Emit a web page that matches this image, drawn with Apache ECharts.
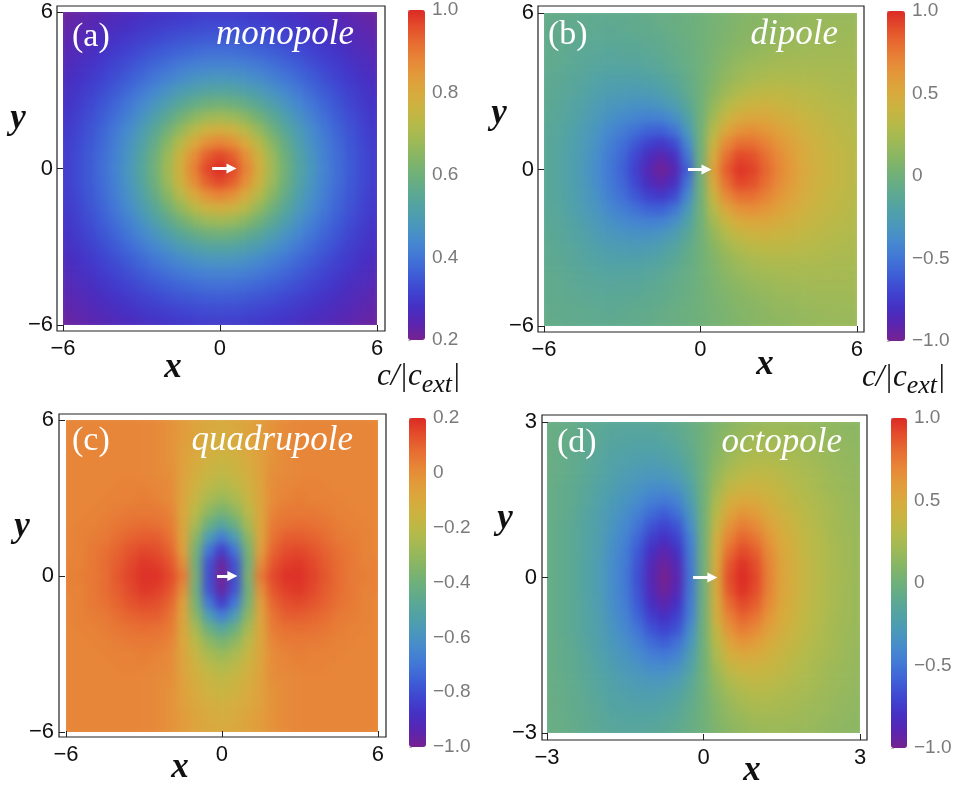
<!DOCTYPE html>
<html>
<head>
<meta charset="utf-8">
<script src="https://cdn.jsdelivr.net/npm/echarts/dist/echarts.min.js"></script>
<style>
html,body{margin:0;padding:0;background:#fff;}
#stage{position:relative;width:960px;height:791px;background:#fff;}
.heatwrap{position:absolute;overflow:hidden;}
.heatblur{position:absolute;filter:blur(4px);}
#chart{position:absolute;left:0;top:0;width:960px;height:791px;}
</style>
</head>
<body>
<div id="stage">
  <div class="heatwrap" id="hw0"><div class="heatblur" id="hb0"></div></div>
  <div class="heatwrap" id="hw1"><div class="heatblur" id="hb1"></div></div>
  <div class="heatwrap" id="hw2"><div class="heatblur" id="hb2"></div></div>
  <div class="heatwrap" id="hw3"><div class="heatblur" id="hb3"></div></div>
  <div id="chart"></div>
</div>
<script>
// ---------------- DATA ----------------
// grid coordinates of the sampled field (cell centres)
const coords6 = [-6,-5.5,-5,-4.5,-4,-3.5,-3,-2.5,-2,-1.5,-1,-0.5,0,0.5,1,1.5,2,2.5,3,3.5,4,4.5,5,5.5,6];
const coords3 = [-3,-2.75,-2.5,-2.25,-2,-1.75,-1.5,-1.25,-1,-0.75,-0.5,-0.25,0,0.25,0.5,0.75,1,1.25,1.5,1.75,2,2.25,2.5,2.75,3];

// Field values, one quadrant at a time
// (row j = |y| index from 0 outward, column i = |x| index from 0 outward).
// monopole / quadrupole: the same values in all four quadrants.
// dipole / octopole: right half (x>0) values, and left half (x<0) magnitudes (negative sign).
const monopoleQ = [
 [1.00,.967,.884,.783,.687,.603,.533,.475,.427,.387,.354,.325,.300],
 [.967,.937,.861,.767,.676,.596,.528,.471,.424,.385,.352,.324,.299],
 [.884,.861,.801,.724,.645,.574,.513,.461,.417,.379,.348,.320,.297],
 [.783,.767,.724,.665,.603,.544,.491,.445,.405,.370,.340,.315,.292],
 [.687,.676,.645,.603,.556,.508,.464,.424,.389,.358,.331,.307,.286],
 [.603,.596,.574,.544,.508,.471,.436,.402,.372,.345,.320,.298,.279],
 [.533,.528,.513,.491,.464,.436,.407,.379,.354,.330,.308,.289,.271],
 [.475,.471,.461,.445,.424,.402,.379,.357,.335,.315,.296,.278,.263],
 [.427,.424,.417,.405,.389,.372,.354,.335,.317,.299,.283,.268,.254],
 [.387,.385,.379,.370,.358,.345,.330,.315,.299,.285,.270,.257,.244],
 [.354,.352,.348,.340,.331,.320,.308,.296,.283,.270,.258,.246,.235],
 [.325,.324,.320,.315,.307,.298,.289,.278,.268,.257,.246,.236,.226],
 [.300,.299,.297,.292,.286,.279,.271,.263,.254,.244,.235,.226,.217]
];
const dipoleRightQ = [
 [0,.55,.85,.97,.93,.82,.70,.60,.51,.44,.39,.35,.32],
 [0,.49,.79,.92,.89,.79,.68,.59,.50,.43,.39,.35,.32],
 [0,.40,.68,.79,.79,.72,.63,.55,.48,.42,.37,.34,.31],
 [0,.31,.53,.64,.66,.62,.56,.50,.44,.39,.36,.33,.30],
 [0,.22,.39,.49,.52,.52,.48,.44,.40,.36,.33,.31,.29],
 [0,.16,.29,.37,.41,.42,.40,.38,.35,.33,.31,.29,.28],
 [0,.11,.21,.28,.32,.34,.34,.33,.31,.30,.28,.27,.26],
 [0,.08,.16,.21,.25,.27,.28,.28,.27,.27,.26,.25,.25],
 [0,.06,.12,.17,.20,.22,.23,.24,.24,.24,.24,.24,.23],
 [0,.05,.09,.13,.16,.18,.20,.21,.21,.22,.22,.22,.22],
 [0,.04,.07,.11,.13,.15,.17,.18,.19,.20,.20,.20,.21],
 [0,.03,.06,.09,.11,.13,.15,.16,.17,.18,.19,.19,.19],
 [0,.03,.05,.08,.10,.12,.13,.14,.16,.17,.17,.18,.18]
];
const dipoleLeftQ = [
 [0,.60,.90,.98,.88,.72,.58,.48,.38,.29,.22,.16,.13],
 [0,.51,.82,.91,.83,.69,.56,.47,.37,.28,.22,.16,.13],
 [0,.41,.68,.76,.72,.62,.52,.44,.35,.27,.21,.16,.13],
 [0,.30,.51,.59,.58,.52,.46,.40,.32,.26,.20,.15,.13],
 [0,.21,.36,.43,.44,.42,.39,.34,.29,.23,.18,.14,.12],
 [0,.14,.25,.31,.34,.34,.32,.30,.26,.20,.17,.13,.11],
 [0,.09,.17,.23,.26,.27,.26,.25,.22,.18,.15,.12,.10],
 [0,.07,.13,.17,.20,.21,.21,.21,.19,.16,.14,.11,.10],
 [0,.05,.09,.13,.15,.17,.17,.17,.16,.14,.12,.10,.09],
 [0,.04,.07,.10,.12,.14,.14,.15,.14,.13,.11,.09,.08],
 [0,.03,.06,.08,.10,.11,.12,.12,.12,.11,.10,.08,.08],
 [0,.02,.04,.06,.08,.09,.10,.11,.10,.09,.09,.08,.07],
 [0,.02,.04,.05,.07,.08,.09,.09,.10,.09,.08,.07,.07]
];
const quadrupoleQ = [
 [-1.00,-.80,-.38,.05,.15,.19,.19,.16,.12,.08,.05,.04,.03],
 [-.97,-.79,-.40,.00,.13,.17,.18,.15,.11,.08,.05,.03,.03],
 [-.85,-.70,-.38,-.05,.10,.14,.15,.13,.10,.07,.05,.03,.02],
 [-.68,-.56,-.33,-.07,.07,.11,.11,.10,.08,.05,.04,.03,.02],
 [-.50,-.42,-.26,-.08,.05,.07,.08,.07,.06,.04,.03,.03,.02],
 [-.38,-.32,-.21,-.08,.03,.05,.05,.05,.04,.03,.03,.02,.02],
 [-.29,-.25,-.17,-.07,.01,.03,.04,.03,.03,.03,.02,.02,.02],
 [-.23,-.20,-.14,-.07,.01,.02,.03,.03,.03,.02,.02,.02,.02],
 [-.19,-.16,-.12,-.06,.00,.01,.02,.02,.02,.02,.02,.02,.02],
 [-.16,-.14,-.10,-.06,-.01,.01,.02,.02,.02,.02,.02,.02,.02],
 [-.13,-.11,-.09,-.05,-.01,.01,.02,.02,.02,.02,.02,.02,.02],
 [-.11,-.10,-.07,-.04,-.01,.01,.02,.02,.02,.02,.02,.02,.02],
 [-.10,-.09,-.07,-.04,-.01,.01,.02,.02,.02,.02,.02,.02,.02]
];
const octopoleRightQ = [
 [0,.50,.90,1.0,.92,.72,.55,.45,.36,.31,.25,.22,.18],
 [0,.49,.87,.98,.90,.71,.54,.45,.36,.30,.25,.21,.18],
 [0,.47,.80,.91,.85,.68,.53,.44,.35,.30,.25,.21,.18],
 [0,.45,.72,.83,.77,.63,.50,.42,.34,.29,.24,.21,.18],
 [0,.37,.64,.74,.68,.57,.47,.39,.33,.28,.23,.20,.17],
 [0,.32,.54,.63,.59,.50,.43,.37,.31,.27,.23,.19,.17],
 [0,.26,.45,.51,.50,.44,.39,.33,.29,.25,.22,.19,.16],
 [0,.21,.35,.41,.41,.39,.35,.30,.27,.23,.20,.18,.16],
 [0,.16,.27,.33,.35,.34,.31,.28,.25,.22,.19,.17,.15],
 [0,.12,.21,.27,.29,.29,.27,.25,.23,.20,.18,.16,.14],
 [0,.09,.17,.22,.25,.25,.24,.23,.20,.19,.17,.15,.14],
 [0,.08,.14,.18,.21,.21,.21,.20,.19,.17,.15,.14,.13],
 [0,.06,.11,.15,.17,.19,.19,.18,.17,.16,.14,.13,.12]
];
const octopoleLeftQ = [
 [0,.50,.90,1.0,.88,.66,.48,.37,.26,.19,.12,.08,.05],
 [0,.49,.87,.97,.86,.65,.47,.37,.26,.19,.12,.08,.05],
 [0,.47,.80,.91,.81,.62,.46,.36,.25,.18,.12,.08,.05],
 [0,.45,.72,.81,.73,.57,.43,.34,.24,.18,.12,.08,.05],
 [0,.37,.64,.71,.64,.51,.40,.32,.23,.18,.12,.08,.05],
 [0,.32,.52,.60,.54,.44,.36,.30,.23,.17,.11,.07,.05],
 [0,.25,.43,.48,.45,.38,.32,.27,.21,.15,.10,.07,.05],
 [0,.20,.33,.38,.37,.33,.29,.24,.19,.14,.10,.07,.04],
 [0,.15,.25,.30,.30,.28,.25,.22,.17,.13,.09,.06,.04],
 [0,.11,.19,.23,.25,.24,.22,.20,.16,.12,.08,.06,.04],
 [0,.08,.15,.19,.20,.20,.19,.18,.14,.11,.08,.06,.04],
 [0,.06,.12,.15,.17,.17,.17,.16,.13,.10,.07,.05,.04],
 [0,.05,.09,.12,.14,.15,.15,.14,.12,.10,.07,.05,.04]
];

// tick labels
const ticks6 = [-6, 0, 6];
const ticks3 = [-3, 0, 3];
// colour-bar ranges [min, max, interval]
const barA = [0.2, 1.0, 0.2];
const barB = [-1.0, 1.0, 0.5];
const barC = [-1.0, 0.2, 0.2];
const barD = [-1.0, 1.0, 0.5];
// white arrows (data coordinates: tail, end of shaft)
const arrowA = [[-0.30, 0], [0.44, 0]];
const arrowB = [[-0.48, 0], [0.23, 0]];
const arrowC = [[-0.19, 0], [0.40, 0]];
const arrowD = [[-0.20, 0], [0.17, 0]];
// texts
const panelLetters = ['(a)', '(b)', '(c)', '(d)'];
const panelNames = ['monopole', 'dipole', 'quadrupole', 'octopole'];

// ---------------- STYLE ----------------
const palette = ['#76228f','#5a25b0','#4530c4','#3f45d0','#3e5ed6','#4276d6','#4689cf','#4a98bb','#51a2a6','#5ea98f',
                 '#6fb07a','#85b566','#9db957','#b4ba4a','#c9b441','#d8aa3d','#e29b3a','#e78637','#e76c31','#e34d2b','#dc2a25'];
const SERIF = '"Liberation Serif", "DejaVu Serif", serif';
const SANS = '"Liberation Sans", Arial, sans-serif';
const MINUS = '\u2212';

function buildTable(rightQ, leftQ) {
  const n = rightQ.length, out = [];
  for (let b = 0; b < 2 * n - 1; b++) {
    for (let a = 0; a < 2 * n - 1; a++) {
      const i = Math.abs(a - (n - 1)), j = Math.abs(b - (n - 1));
      const v = (a < n - 1 && leftQ) ? -leftQ[j][i] : rightQ[j][i];
      out.push([a, b, v]);
    }
  }
  return out;
}
function tickFmt(v) { return v < 0 ? MINUS + Math.abs(v) : String(v); }
function barFmt(v) {
  if (Math.abs(v) < 1e-9) return '0';
  return (v < 0 ? MINUS : '') + Math.abs(v).toFixed(1);
}

const panels = [
  { right: monopoleQ, left: null, coords: coords6, ticks: ticks6, bar: barA, arrow: arrowA,
    heat: {left: 63, top: 12, width: 314, height: 313},
    frame: {left: 57, top: 6, width: 328, height: 325}, xr: [-6.229, 6.306], yr: [-6.23, 6.23],
    cbar: {left: 408, top: 10, width: 17, height: 330}, ylm: 4 },
  { right: dipoleRightQ, left: dipoleLeftQ, coords: coords6, ticks: ticks6, bar: barB, arrow: arrowB,
    heat: {left: 544, top: 13, width: 313, height: 313},
    frame: {left: 538, top: 6, width: 326, height: 326}, xr: [-6.23, 6.27], yr: [-6.23, 6.27],
    cbar: {left: 887, top: 11, width: 18, height: 330}, ylm: 4 },
  { right: quadrupoleQ, left: null, coords: coords6, ticks: ticks6, bar: barC, arrow: arrowC,
    heat: {left: 66, top: 420, width: 312, height: 312},
    frame: {left: 59, top: 414, width: 327, height: 323}, xr: [-6.27, 6.31], yr: [-6.19, 6.23],
    cbar: {left: 409, top: 418, width: 17, height: 329}, ylm: 5 },
  { right: octopoleRightQ, left: octopoleLeftQ, coords: coords3, ticks: ticks3, bar: barD, arrow: arrowD,
    heat: {left: 547, top: 422, width: 313, height: 311},
    frame: {left: 542, top: 415, width: 325, height: 325}, xr: [-3.096, 3.134], yr: [-3.135, 3.135],
    cbar: {left: 891, top: 418, width: 16, height: 330}, ylm: 5 }
];

// ---------- heat-map layers (one ECharts instance per panel, softened) ----------
const M = 20;
panels.forEach(function (p, k) {
  const wrap = document.getElementById('hw' + k), blur = document.getElementById('hb' + k);
  const h = p.heat;
  Object.assign(wrap.style, {left: h.left + 'px', top: h.top + 'px', width: h.width + 'px', height: h.height + 'px'});
  Object.assign(blur.style, {left: -M + 'px', top: -M + 'px', width: (h.width + 2 * M) + 'px', height: (h.height + 2 * M) + 'px'});
  const n = p.coords.length;
  const cw = h.width / (n - 1), ch = h.height / (n - 1);
  const cats = p.coords.map(String);
  const c = echarts.init(blur, null, {renderer: 'canvas'});
  c.setOption({
    animation: false,
    grid: {left: M - cw / 2, top: M - ch / 2, width: h.width + cw, height: h.height + ch},
    xAxis: {type: 'category', data: cats, show: false},
    yAxis: {type: 'category', data: cats, show: false},
    visualMap: {type: 'continuous', show: false, min: p.bar[0], max: p.bar[1], seriesIndex: 0, inRange: {color: palette}},
    series: [{type: 'heatmap', data: buildTable(p.right, p.left), progressive: 0,
              emphasis: {disabled: true}, itemStyle: {borderWidth: 0}}]
  });
});

// ---------- main layer: frames, ticks, colour bars, arrows, texts ----------
const grids = [], xAxes = [], yAxes = [], barSeries = [], arrowSeries = [], visualMaps = [];
panels.forEach(function (p, k) {
  // hidden grid holding the colour-bar target series
  const gi = grids.length;
  grids.push(Object.assign({}, p.heat));
  const cats = p.coords.map(String);
  xAxes.push({gridIndex: gi, type: 'category', data: cats, show: false});
  yAxes.push({gridIndex: gi, type: 'category', data: cats, show: false});
  barSeries.push({type: 'heatmap', xAxisIndex: gi, yAxisIndex: gi, data: [], silent: true});
  // frame grid with ticks
  const fi = grids.length;
  grids.push(Object.assign({show: true, borderColor: '#222', borderWidth: 1.2, backgroundColor: 'rgba(0,0,0,0)'}, p.frame));
  xAxes.push({
    gridIndex: fi, type: 'value', min: p.xr[0], max: p.xr[1], position: 'bottom',
    axisLine: {show: false, onZero: false}, splitLine: {show: false},
    axisTick: {show: true, inside: true, length: 6, customValues: p.ticks, lineStyle: {color: '#222', width: 1}},
    axisLabel: {customValues: p.ticks, margin: 7, fontSize: 22, fontFamily: SANS, color: '#111', formatter: tickFmt}
  });
  yAxes.push({
    gridIndex: fi, type: 'value', min: p.yr[0], max: p.yr[1], position: 'left',
    axisLine: {show: false, onZero: false}, splitLine: {show: false},
    axisTick: {show: true, inside: true, length: 6, customValues: p.ticks, lineStyle: {color: '#222', width: 1}},
    axisLabel: {customValues: p.ticks, margin: p.ylm, fontSize: 22, fontFamily: SANS, color: '#111', formatter: tickFmt}
  });
  arrowSeries.push({
    type: 'lines', coordinateSystem: 'cartesian2d', xAxisIndex: fi, yAxisIndex: fi,
    data: [{coords: p.arrow}], symbol: ['none', 'triangle'], symbolSize: [0, 10],
    lineStyle: {color: '#fff', width: 3, opacity: 1, curveness: 0}, silent: true, z: 10, animation: false
  });
  // colour-bar label axis
  const ci = grids.length;
  grids.push(Object.assign({}, p.cbar));
  xAxes.push({gridIndex: ci, type: 'value', show: false});
  yAxes.push({
    gridIndex: ci, type: 'value', min: p.bar[0], max: p.bar[1], interval: p.bar[2], position: 'right',
    axisLine: {show: false}, splitLine: {show: false},
    axisTick: {show: true, length: 3, lineStyle: {color: '#bbb'}},
    minorTick: {show: true, splitNumber: 2, length: 2, lineStyle: {color: '#ccc'}},
    axisLabel: {margin: 7, fontSize: 19, fontFamily: SANS, color: '#7a7a7a', formatter: barFmt}
  });
  visualMaps.push({
    type: 'continuous', seriesIndex: k, min: p.bar[0], max: p.bar[1], calculable: false,
    orient: 'vertical', left: p.cbar.left, top: p.cbar.top, itemWidth: p.cbar.width, itemHeight: p.cbar.height,
    padding: 0, text: null, hoverLink: false, inRange: {color: palette}
  });
});

// ---------------- TEXT ----------------
const measureCtx = document.createElement('canvas').getContext('2d');
function textWidth(t, font) { measureCtx.font = font; return measureCtx.measureText(t).width; }
function txt(text, x, baseline, size, opt) {
  opt = opt || {};
  return {
    type: 'text', x: x, y: baseline - 0.34 * size, silent: true, z: 100,
    style: {
      text: text, fontSize: size, fontFamily: opt.family || SERIF, fontStyle: opt.style || 'normal',
      fontWeight: opt.weight || 'normal', fill: opt.fill || '#111', align: opt.align || 'left', verticalAlign: 'middle'
    }
  };
}
const graphics = [];
const letterPos = [[72, 49], [548, 47], [72, 453], [557, 455]];
const namePos = [[354, 47], [838, 47], [353, 453], [842, 455]];
panelLetters.forEach(function (t, k) {
  graphics.push(txt(t, letterPos[k][0], letterPos[k][1], 34, {fill: '#fff'}));
  graphics.push(txt(panelNames[k], namePos[k][0], namePos[k][1], 35, {fill: '#fff', style: 'italic', align: 'right'}));
});
const xTitle = [[173, 380], [765, 377], [180, 780], [752, 783]];
const yTitle = [[18, 131], [499, 126], [22, 539], [505, 531]];
xTitle.forEach(function (p) { graphics.push(txt('x', p[0], p[1], 35, {style: 'italic', weight: 'bold', align: 'center'})); });
yTitle.forEach(function (p) { graphics.push(txt('y', p[0], p[1], 35, {style: 'italic', weight: 'bold', align: 'center'})); });
// colour-bar quantity label c/|c_ext|
function quantityLabel(x, baseline) {
  const mainF = 31, subF = 26;
  const w1 = textWidth('c/|c', 'italic ' + mainF + 'px ' + SERIF);
  const w2 = textWidth('ext', 'italic ' + subF + 'px ' + SERIF);
  graphics.push(txt('c/|c', x, baseline, mainF, {style: 'italic'}));
  graphics.push(txt('ext', x + w1, baseline + 7, subF, {style: 'italic'}));
  graphics.push(txt('|', x + w1 + w2, baseline, mainF, {style: 'italic'}));
}
quantityLabel(377, 387);
quantityLabel(862, 388);

const chart = echarts.init(document.getElementById('chart'), null, {renderer: 'canvas'});
chart.setOption({
  animation: false,
  backgroundColor: 'transparent',
  grid: grids,
  xAxis: xAxes,
  yAxis: yAxes,
  visualMap: visualMaps,
  series: barSeries.concat(arrowSeries),
  graphic: graphics
});
</script>
</body>
</html>
